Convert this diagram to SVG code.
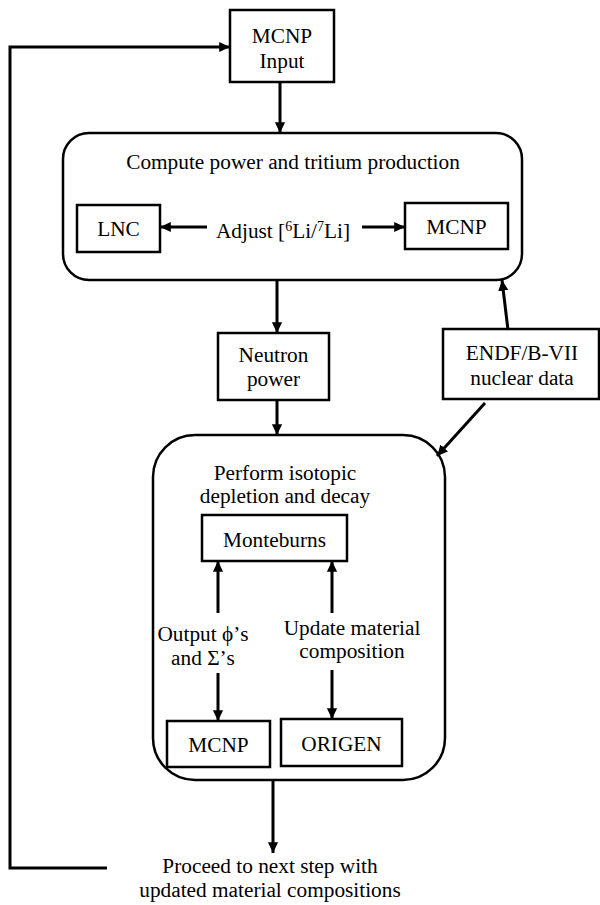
<svg xmlns="http://www.w3.org/2000/svg" width="600" height="905" viewBox="0 0 600 905">
<style>
text{font-family:"Liberation Serif","Times New Roman",serif;font-size:21.3px;fill:#000;text-anchor:middle}
.box{fill:#fff;stroke:#000;stroke-width:2.5}
.big{fill:#fff;stroke:#000;stroke-width:2.5}
.ar{fill:none;stroke:#000;stroke-width:3;marker-end:url(#ah)}
</style>
<defs>
<marker id="ah" markerWidth="4" markerHeight="4" refX="3.6" refY="2" orient="auto" markerUnits="strokeWidth">
<path d="M0,0.3 L3.6,2 L0,3.7 Z" fill="#000"/>
</marker>
</defs>
<rect width="600" height="905" fill="#fff"/>
<g id="compute">
<rect class="big" x="63" y="133" width="459" height="147" rx="26"/>
<text x="293" y="169">Compute power and tritium production</text>
</g>
<g id="deplete">
<rect class="big" x="153" y="435" width="292" height="345" rx="42"/>
<text x="285" y="480">Perform isotopic</text>
<text x="285" y="503">depletion and decay</text>
</g>
<g id="mcnp-input">
<rect class="box" x="230" y="10" width="104" height="72"/>
<text x="282" y="43">MCNP</text>
<text x="282" y="68">Input</text>
</g>
<g id="lnc">
<rect class="box" x="77" y="205" width="83" height="47"/>
<text x="118.5" y="236">LNC</text>
</g>
<g id="adjust">
<text x="283" y="238">Adjust [<tspan font-size="14" dy="-7">6</tspan><tspan dy="7">Li/</tspan><tspan font-size="14" dy="-7">7</tspan><tspan dy="7">Li]</tspan></text>
</g>
<g id="mcnp1">
<rect class="box" x="405" y="203" width="103" height="46"/>
<text x="456.5" y="234">MCNP</text>
</g>
<g id="neutron">
<rect class="box" x="218" y="333" width="111" height="67"/>
<text x="273.5" y="362">Neutron</text>
<text x="273.5" y="386">power</text>
</g>
<g id="endf">
<rect class="box" x="443" y="329" width="156" height="70"/>
<text x="522" y="360">ENDF/B-VII</text>
<text x="522" y="385">nuclear data</text>
</g>
<g id="monteburns">
<rect class="box" x="202" y="515" width="145" height="46"/>
<text x="274.5" y="547">Monteburns</text>
</g>
<g id="output-label">
<text x="203" y="641">Output ϕ’s</text>
<text x="203" y="665">and Σ’s</text>
</g>
<g id="update-label">
<text x="352" y="635">Update material</text>
<text x="352" y="658">composition</text>
</g>
<g id="mcnp2">
<rect class="box" x="167" y="721" width="103" height="46"/>
<text x="218.5" y="752">MCNP</text>
</g>
<g id="origen">
<rect class="box" x="281" y="719" width="121" height="47"/>
<text x="341.5" y="751">ORIGEN</text>
</g>
<g id="proceed">
<text x="270" y="873">Proceed to next step with</text>
<text x="270" y="897">updated material compositions</text>
</g>
<g id="connectors">
<line class="ar" x1="280" y1="82" x2="280" y2="133"/>
<line class="ar" x1="207" y1="227" x2="160" y2="227"/>
<line class="ar" x1="362" y1="227" x2="405" y2="227"/>
<line class="ar" x1="277" y1="280" x2="277" y2="333"/>
<line class="ar" x1="277" y1="400" x2="277" y2="435"/>
<line class="ar" x1="508" y1="330" x2="502" y2="280"/>
<line class="ar" x1="485" y1="403" x2="437" y2="456"/>
<line class="ar" x1="218" y1="613" x2="218" y2="561"/>
<line class="ar" x1="332" y1="613" x2="332" y2="561"/>
<line class="ar" x1="218" y1="673" x2="218" y2="721"/>
<line class="ar" x1="332" y1="670" x2="332" y2="719"/>
<line class="ar" x1="273" y1="780" x2="273" y2="853"/>
<polyline class="ar" points="107,868 10,868 10,47 230,47"/>
</g>
</svg>
